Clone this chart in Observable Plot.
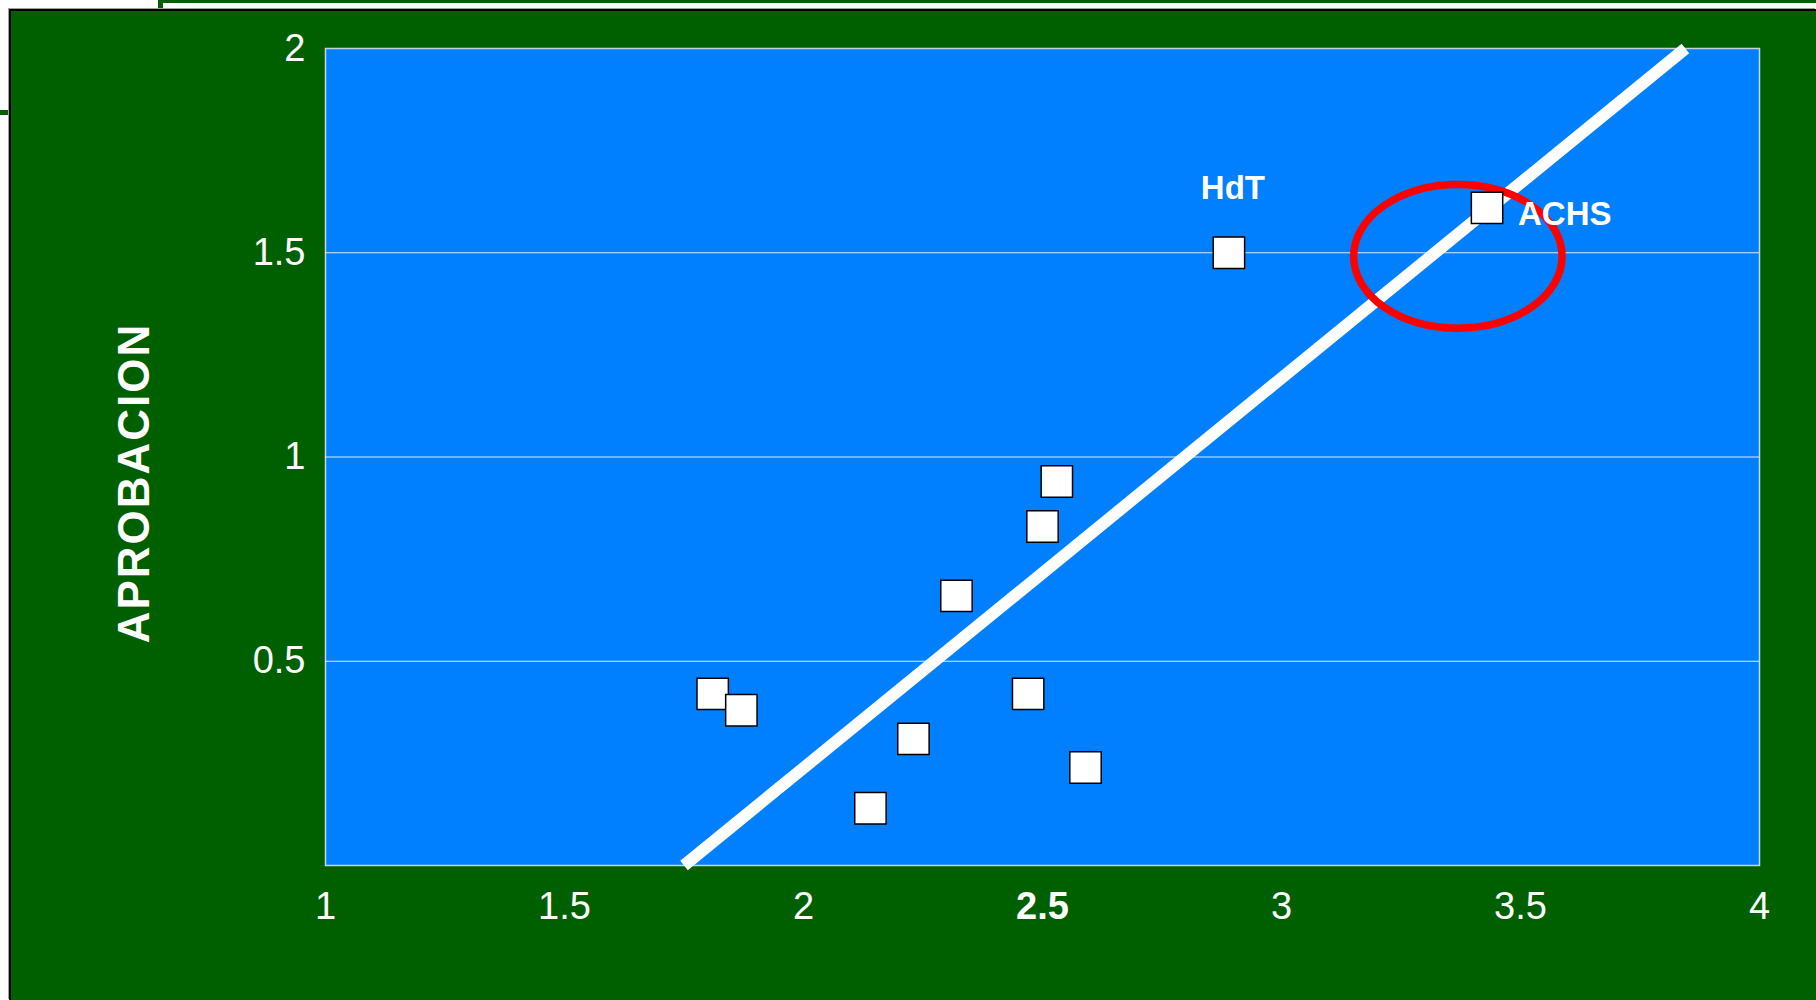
<!DOCTYPE html>
<html>
<head>
<meta charset="utf-8">
<script src="https://cdn.jsdelivr.net/npm/d3@7"></script>
<script src="https://cdn.jsdelivr.net/npm/@observablehq/plot@0.6"></script>
<style>
  html, body { margin: 0; padding: 0; background: #ffffff; width: 1816px; height: 1000px; overflow: hidden;
    font-family: "Liberation Sans", Arial, sans-serif; }
  #bg { position: absolute; left: 9px; top: 9px; width: 1807px; height: 991px; background: #006000;
    border-left: 2px solid #000; border-top: 2px solid #000; box-sizing: border-box;
    box-shadow: -1px -1px 0 #a0a0a0; }
  #topbar { position: absolute; left: 160px; top: 0; width: 1656px; height: 3px; background: #006000; }
  #topstub { position: absolute; left: 158px; top: 0; width: 5px; height: 9px; background: #006000; }
  #leftstub { position: absolute; left: 0; top: 110px; width: 9px; height: 5px; background: #006000; }
  #chart { position: absolute; left: 0; top: 0; }
</style>
</head>
<body>
<div id="topbar"></div>
<div id="topstub"></div>
<div id="leftstub"></div>
<div id="bg"></div>
<div id="chart"></div>
<script>
// ---- data ----
const pointX = [2.53, 2.50, 2.32, 1.81, 1.87, 2.47, 2.23, 2.59, 2.14, 2.89, 3.43];
const pointY = [0.94, 0.83, 0.66, 0.42, 0.38, 0.42, 0.31, 0.24, 0.14, 1.50, 1.61];
const pointName = ["", "", "", "", "", "", "", "", "", "HdT", "ACHS"];

const trendX = [1.75, 3.845];
const trendY = [0.0, 2.0];

const highlightX = [3.37];
const highlightY = [1.49];
const highlightRX = [0.218];
const highlightRY = [0.176];

const xTicks = [1, 1.5, 2, 2.5, 3, 3.5, 4];
const yTicks = [0.5, 1, 1.5, 2];
const gridTicks = [0.5, 1, 1.5];
const yTitle = "APROBACION";

// ---- tables built from the arrays ----
const points = pointX.map((x, i) => ({x, y: pointY[i], name: pointName[i]}));
const trend = trendX.map((x, i) => ({x, y: trendY[i]}));
const highlight = highlightX.map((x, i) => ({x, y: highlightY[i], rx: highlightRX[i], ry: highlightRY[i]}));
const labelHdT = points.filter(d => d.name === "HdT");
const labelACHS = points.filter(d => d.name === "ACHS");

const fmt = d3.format("~g");

const chart = Plot.plot({
  width: 1816,
  height: 1000,
  marginLeft: 325,
  marginRight: 57,
  marginTop: 48,
  marginBottom: 135,
  style: { background: "transparent", color: "white", fontFamily: "'Liberation Sans', Arial, sans-serif", fontSize: "38px" },
  x: { domain: [1, 4] },
  y: { domain: [0, 2] },
  marks: [
    Plot.frame({ fill: "#0080ff", stroke: "#c8d4dc", strokeWidth: 1.5 }),
    Plot.gridY(gridTicks, { stroke: "#ffffff", strokeOpacity: 0.85, strokeWidth: 1.2 }),
    Plot.line(trend, { x: "x", y: "y", stroke: "#ffffff", strokeWidth: 12, strokeLinecap: "butt" }),
    Plot.dot(highlight, {
      x: "x", y: "y", r: 1,
      render(index, scales, values, dimensions, context, next) {
        const g = d3.create("svg:g");
        for (const i of index) {
          const d = highlight[i];
          const cx = scales.x(d.x), cy = scales.y(d.y);
          const rx = Math.abs(scales.x(d.x + d.rx) - cx);
          const ry = Math.abs(scales.y(d.y + d.ry) - cy);
          g.append("ellipse").attr("cx", cx).attr("cy", cy).attr("rx", rx).attr("ry", ry)
            .attr("fill", "none").attr("stroke", "#ff0000").attr("stroke-width", 7.5);
        }
        return g.node();
      }
    }),
    Plot.dot(points, { x: "x", y: "y", symbol: "square", r: 17.7, fill: "#ffffff", stroke: "#000000", strokeWidth: 1.5 }),
    Plot.text(labelHdT, { x: "x", y: "y", text: "name", dx: 4, dy: -64, fill: "white", fontWeight: "bold", fontSize: 33 }),
    Plot.text(labelACHS, { x: "x", y: "y", text: "name", dx: 31, dy: 7, textAnchor: "start", fill: "white", fontWeight: "bold", fontSize: 33 }),
    Plot.axisX({ ticks: xTicks, tickSize: 0, tickPadding: 27, tickFormat: fmt, fontSize: 38, label: null }),
    Plot.axisY({ ticks: yTicks, tickSize: 0, tickPadding: 20, tickFormat: fmt, fontSize: 38, label: null }),
    Plot.text([yTitle], { frameAnchor: "left", text: d => d, rotate: -90, textAnchor: "middle", dx: -191, dy: 26, fill: "white",
      fontWeight: "bold", fontSize: 44 })
  ]
});

d3.select(chart).selectAll("text").filter(function () { return this.textContent === "2.5"; })
  .attr("font-weight", "bold");
d3.select(chart).selectAll("text").filter(function () { return this.textContent === yTitle; })
  .style("letter-spacing", "2px");

document.getElementById("chart").appendChild(chart);
</script>
</body>
</html>
